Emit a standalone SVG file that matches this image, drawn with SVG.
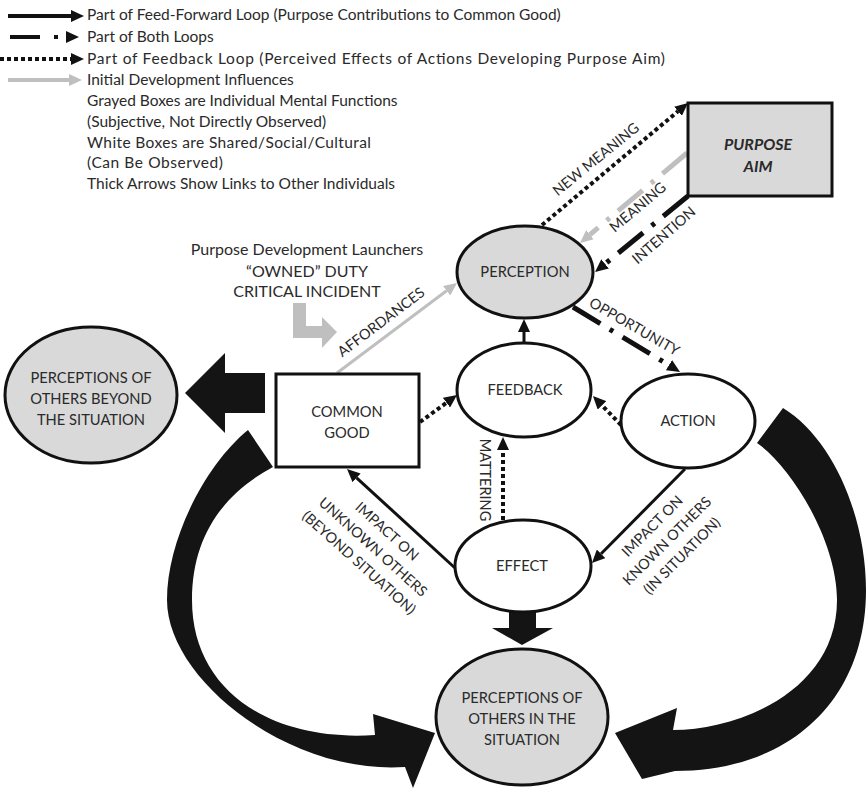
<svg xmlns="http://www.w3.org/2000/svg" width="868" height="789" viewBox="0 0 868 789">
<style>
.t{font-family:Lato,"Liberation Sans",sans-serif;fill:#2a2a2a;}
.lg{font-size:15.5px;}
.nd{font-size:14.7px;text-anchor:middle;}
.lb{font-size:14.5px;text-anchor:middle;}
.gn{fill:#d9d9d9;stroke:#111;stroke-width:3;}
.wn{fill:#fff;stroke:#111;stroke-width:3;}
.solid{stroke:#111;stroke-width:3;fill:none;}
.dot{stroke:#111;stroke-width:4;stroke-dasharray:4 3;fill:none;}
.both{stroke:#111;stroke-width:5;stroke-dasharray:32 11 4 11;fill:none;}
.gboth{stroke:#bfbfbf;stroke-width:5;stroke-dasharray:32 11 4 11;fill:none;}
.gray{stroke:#bfbfbf;stroke-width:3;fill:none;}
.big{fill:#141414;}
</style>
<defs>
<marker id="ah" markerUnits="userSpaceOnUse" markerWidth="13" markerHeight="12" refX="0" refY="6" orient="auto"><path d="M0,0 L13,6 L0,12 z" fill="#111"/></marker>
<marker id="ahg" markerUnits="userSpaceOnUse" markerWidth="13" markerHeight="12" refX="0" refY="6" orient="auto"><path d="M0,0 L13,6 L0,12 z" fill="#bfbfbf"/></marker>
</defs>

<g id="legend">
<line x1="8" y1="16" x2="71" y2="16" stroke="#111" stroke-width="4" marker-end="url(#ah)"/>
<line x1="10" y1="37" x2="66" y2="37" stroke="#111" stroke-width="4" stroke-dasharray="30 14 4 100" marker-end="url(#ah)"/>
<line x1="0" y1="59" x2="71" y2="59" class="dot" marker-end="url(#ah)"/>
<line x1="8" y1="80" x2="69" y2="80" stroke="#bfbfbf" stroke-width="4" marker-end="url(#ahg)"/>
<text class="t lg" x="87" y="20">Part of Feed-Forward Loop (Purpose Contributions to Common Good)</text>
<text class="t lg" x="87" y="42">Part of Both Loops</text>
<text class="t lg" x="87" y="64" textLength="578" lengthAdjust="spacing">Part of Feedback Loop (Perceived Effects of Actions Developing Purpose Aim)</text>
<text class="t lg" x="87" y="85">Initial Development Influences</text>
<text class="t lg" x="87" y="106">Grayed Boxes are Individual Mental Functions</text>
<text class="t lg" x="87" y="127">(Subjective, Not Directly Observed)</text>
<text class="t lg" x="87" y="148" textLength="284" lengthAdjust="spacing">White Boxes are Shared/Social/Cultural</text>
<text class="t lg" x="87" y="168" textLength="136" lengthAdjust="spacing">(Can Be Observed)</text>
<text class="t lg" x="87" y="189">Thick Arrows Show Links to Other Individuals</text>
</g>

<g id="launchers">
<text class="t nd" style="font-size:16px" x="307" y="255">Purpose Development Launchers</text>
<text class="t nd" style="font-size:16px" x="307" y="277">“OWNED” DUTY</text>
<text class="t nd" style="font-size:16px" x="307" y="297">CRITICAL INCIDENT</text>
<polygon points="293,303 306,303 306,326 322,326 322,317 337,332 322,348 322,338 293,338" fill="#bfbfbf"/>
</g>

<g id="connectors">
<line x1="337" y1="373" x2="446.6" y2="290.8" class="gray" marker-end="url(#ahg)"/>
<line x1="524" y1="343" x2="524" y2="332" class="solid" marker-end="url(#ah)"/>
<line x1="573" y1="307" x2="668.9" y2="365.2" class="both" marker-end="url(#ah)"/>
<line x1="688" y1="196" x2="605.1" y2="263.8" class="both" marker-end="url(#ah)"/>
<line x1="687" y1="153" x2="590" y2="234.6" class="gboth" marker-end="url(#ahg)"/>
<line x1="542" y1="225" x2="678" y2="111.3" class="dot" marker-end="url(#ah)"/>
<line x1="420" y1="422" x2="446.5" y2="402.7" class="dot" marker-end="url(#ah)"/>
<line x1="621" y1="425" x2="602" y2="405.4" class="dot" marker-end="url(#ah)"/>
<line x1="503" y1="520" x2="503" y2="450" class="dot" marker-end="url(#ah)"/>
<line x1="455" y1="568" x2="356.6" y2="477.8" class="solid" marker-end="url(#ah)"/>
<line x1="685" y1="469" x2="601.1" y2="553.8" class="solid" marker-end="url(#ah)"/>
<polygon class="big" points="265,373 225,373 225,353 185,393 225,433 225,413 265,413"/>
<polygon class="big" points="509,611 536,611 536,628 553,628 522,645 492,628 509,628"/>
<path class="big" d="M248,430 C205,465 167,540 167,600 C167,680 290,775 405,767 L413,788 L435,733 L373,714 L375,735 C270,742 192,690 192,600 C192,530 230,490 273,467 Z"/>
<path class="big" d="M783,408 C835,440 866,520 866,590 C866,700 790,771 675,771 L642,779 L615,733 L677,708 L673,730 C740,730 837,690 837,600 C837,540 790,465 757,443 Z"/>
<text class="t lb" transform="translate(384,326) rotate(-37)">AFFORDANCES</text>
<text class="t lb" transform="translate(599,163) rotate(-39)">NEW MEANING</text>
<text class="t lb" transform="translate(641,211) rotate(-40)">MEANING</text>
<text class="t lb" transform="translate(667,239) rotate(-41)">INTENTION</text>
<text class="t lb" transform="translate(632,331) rotate(30)">OPPORTUNITY</text>
<text class="t lb" transform="translate(480,480) rotate(90)">MATTERING</text>
<g transform="translate(373,547) rotate(42)">
<text class="t lb" x="0" y="-16">IMPACT ON</text>
<text class="t lb" x="0" y="5">UNKNOWN OTHERS</text>
<text class="t lb" x="0" y="26">(BEYOND SITUATION)</text>
</g>
<g transform="translate(667,541) rotate(-45)">
<text class="t lb" x="0" y="-16">IMPACT ON</text>
<text class="t lb" x="0" y="5">KNOWN OTHERS</text>
<text class="t lb" x="0" y="26">(IN SITUATION)</text>
</g>
</g>

<g id="purpose-aim">
<rect x="688" y="103" width="144" height="93" class="gn" stroke-width="3.5"/>
<text class="t nd" style="font-weight:bold;font-style:italic;font-size:16px" x="758" y="150">PURPOSE</text>
<text class="t nd" style="font-weight:bold;font-style:italic;font-size:16px" x="758" y="172">AIM</text>
</g>
<g id="perception">
<ellipse cx="525" cy="272" rx="68" ry="46" class="gn"/>
<text class="t nd" x="525" y="277">PERCEPTION</text>
</g>
<g id="feedback">
<ellipse cx="524" cy="390" rx="67" ry="47" class="wn"/>
<text class="t nd" x="525" y="395">FEEDBACK</text>
</g>
<g id="action">
<ellipse cx="688" cy="421" rx="67" ry="47" class="wn"/>
<text class="t nd" x="688" y="426">ACTION</text>
</g>
<g id="effect">
<ellipse cx="523" cy="566" rx="68" ry="46" class="wn"/>
<text class="t nd" x="522" y="571">EFFECT</text>
</g>
<g id="common-good">
<rect x="276" y="374" width="143" height="93" class="wn"/>
<text class="t nd" x="347" y="417">COMMON</text>
<text class="t nd" x="347" y="438">GOOD</text>
</g>
<g id="others-beyond">
<ellipse cx="91" cy="395" rx="86" ry="68" class="gn"/>
<text class="t nd" x="91" y="383">PERCEPTIONS OF</text>
<text class="t nd" x="91" y="404">OTHERS BEYOND</text>
<text class="t nd" x="91" y="425">THE SITUATION</text>
</g>
<g id="others-in">
<ellipse cx="522" cy="717" rx="86" ry="68" class="gn"/>
<text class="t nd" x="522" y="703">PERCEPTIONS OF</text>
<text class="t nd" x="522" y="724">OTHERS IN THE</text>
<text class="t nd" x="522" y="745">SITUATION</text>
</g>
</svg>
